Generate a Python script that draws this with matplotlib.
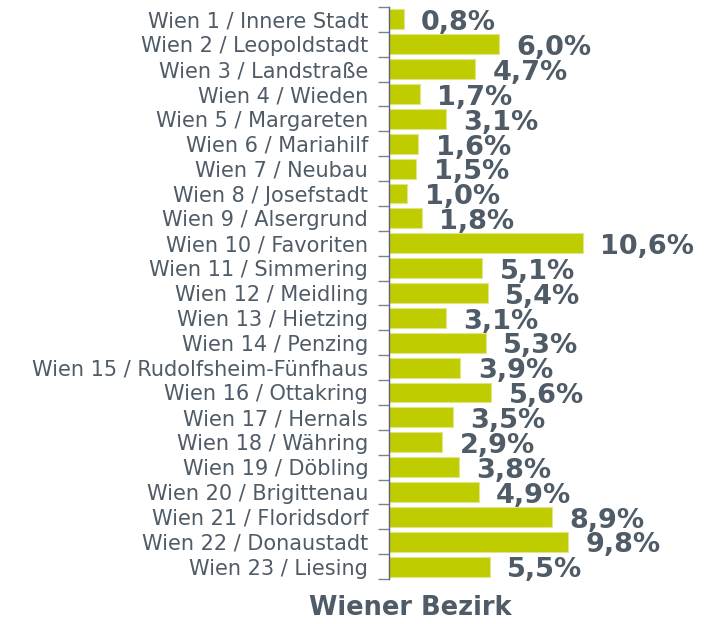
import matplotlib
matplotlib.use("Agg")
import matplotlib.pyplot as plt
import numpy as np

districts = ["Wien 1 / Innere Stadt", "Wien 2 / Leopoldstadt", "Wien 3 / Landstraße",
             "Wien 4 / Wieden", "Wien 5 / Margareten", "Wien 6 / Mariahilf",
             "Wien 7 / Neubau", "Wien 8 / Josefstadt", "Wien 9 / Alsergrund",
             "Wien 10 / Favoriten", "Wien 11 / Simmering", "Wien 12 / Meidling",
             "Wien 13 / Hietzing", "Wien 14 / Penzing", "Wien 15 / Rudolfsheim-Fünfhaus",
             "Wien 16 / Ottakring", "Wien 17 / Hernals", "Wien 18 / Währing",
             "Wien 19 / Döbling", "Wien 20 / Brigittenau", "Wien 21 / Floridsdorf",
             "Wien 22 / Donaustadt", "Wien 23 / Liesing"]
shares = [0.8, 6.0, 4.7, 1.7, 3.1, 1.6, 1.5, 1.0, 1.8, 10.6, 5.1, 5.4, 3.1, 5.3,
          3.9, 5.6, 3.5, 2.9, 3.8, 4.9, 8.9, 9.8, 5.5]
axis_title = "Wiener Bezirk"

text_color = "#4f5b66"
bar_color = "#bfcc00"

plt.rcParams['font.family'] = ['DejaVu Sans']
fig = plt.figure(figsize=(7.10, 6.24), dpi=100)
W, H = 710, 624
ax = fig.add_axes([389 / W, 45 / H, 311 / W, (617 - 45) / H])

y = np.arange(len(districts))
ax.barh(y, shares, height=0.8, color=bar_color, edgecolor="#dfe58a", linewidth=0.8)
ax.set_xlim(0, 17.0)
ax.set_ylim(len(districts) - 0.5, -0.5)

for yi, v in zip(y, shares):
    ax.text(v + 0.95, yi + 0.15, f"{v:.1f}%".replace(".", ","), va="center", ha="left",
            fontsize=19.5, fontweight="bold", color=text_color)

ax.set_yticks(y)
ax.set_yticklabels(districts, fontsize=15, color=text_color)
ax.tick_params(axis="y", which="major", length=0, pad=15)
ax.set_yticks(np.arange(-0.5, len(districts), 1.0), minor=True)
ax.tick_params(axis="y", which="minor", length=8, width=1, color="#7a848e")
ax.set_xticks([])
for s in ["top", "right", "bottom"]:
    ax.spines[s].set_visible(False)
ax.spines["left"].set_color("#5a6470")
ax.spines["left"].set_linewidth(1)

fig.text(410 / W, 1 - 608 / H, axis_title, ha="center", va="center", fontsize=18.5,
         fontweight="bold", color=text_color)

fig.savefig("out.png", dpi=100)
